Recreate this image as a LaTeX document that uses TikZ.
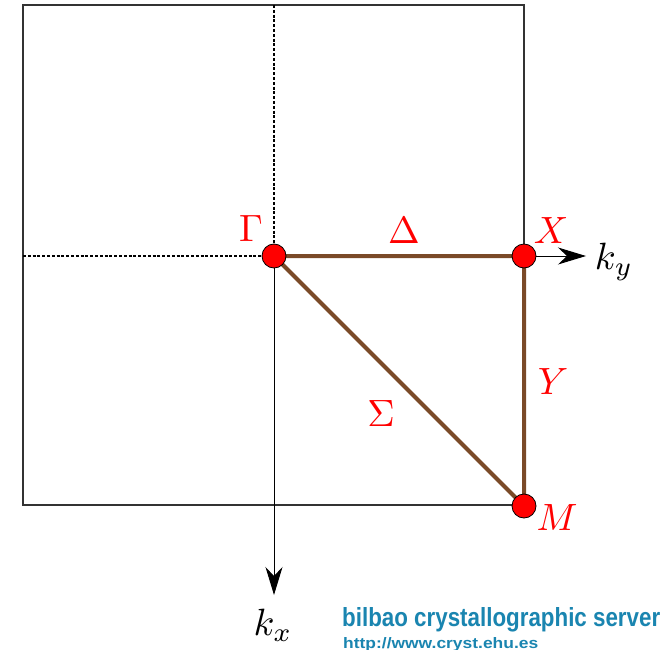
\documentclass[tikz,border=0pt]{standalone}
\usepackage{fontspec}
\usepackage{graphicx}
\newfontfamily\logofont{Liberation Sans}
\usetikzlibrary{arrows.meta}
\definecolor{pathbrown}{RGB}{122,74,40}
\definecolor{logoblue}{RGB}{26,133,176}
\newcommand{\biglab}[1]{\scalebox{3.8}{$#1$}}
\begin{document}
\begin{tikzpicture}[x=1pt,y=-1pt,
  boxline/.style={draw=black!80,line width=1.3pt},
  dashline/.style={draw=black,line width=1.1pt,dash pattern=on 3pt off 1.8pt},
  axis/.style={draw=black,line width=1pt,-{Stealth[length=28pt,width=17pt,inset=9pt]}},
  bz/.style={draw=pathbrown,line width=4pt},
  pt/.style={circle,fill=red,draw=black,line width=0.8pt,minimum size=24pt,inner sep=0pt},
  lab/.style={text=red,inner sep=0pt},
  axlab/.style={text=black,inner sep=0pt}]
\useasboundingbox (0,0) rectangle (664,650);
\fill[white] (0,0) rectangle (664,650);
\coordinate (TL) at (23,5);
\coordinate (BR) at (524,505);
\coordinate (Top) at (274,5);
\coordinate (Left) at (23,256);
\coordinate (KX) at (274,595);
\coordinate (KY) at (586,256);
\draw[boxline] (TL) rectangle (BR);
\draw[dashline] (Top) -- (274,256);
\draw[dashline] (Left) -- (274,256);
\draw[axis] (274,256) -- (KX);
\draw[axis] (524,256) -- (KY);
\coordinate (G) at (274,256);
\coordinate (X) at (524,256);
\coordinate (M) at (524,506);
\draw[bz] (G) -- (X) -- (M) -- cycle;
\node[pt] (nG) at (G) {};
\node[pt] (nX) at (X) {};
\node[pt] (nM) at (M) {};
% labels
\node[lab] (lG) at (251,229) {\biglab{\Gamma}};
\node[lab] (lD) at (404,231) {\biglab{\Delta}};
\node[lab] (lX) at (551,231) {\biglab{X}};
\node[lab] (lY) at (553,382) {\biglab{Y}};
\node[lab] (lS) at (381,414) {\biglab{\Sigma}};
\node[lab] (lM) at (557,518) {\biglab{M}};
\node[axlab] (lky) at (614,262) {\biglab{k_y}};
\node[axlab] (lkx) at (273,625) {\biglab{k_x}};
% logo
\node[anchor=base west,inner sep=0pt,text=logoblue] (logo) at (342,626)
  {\resizebox{318pt}{19pt}{\logofont\bfseries bilbao crystallographic server}};
\node[anchor=base west,inner sep=0pt,text=logoblue] (url) at (343,648)
  {\resizebox{195pt}{11pt}{\logofont\bfseries http://www.cryst.ehu.es}};
\end{tikzpicture}
\end{document}
